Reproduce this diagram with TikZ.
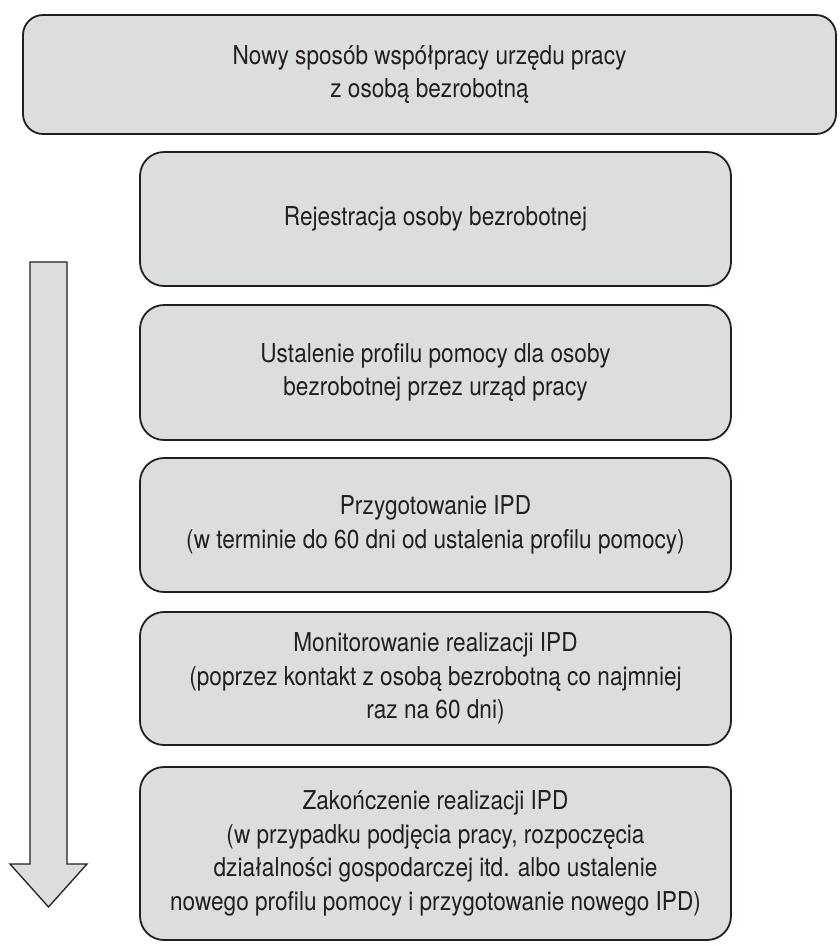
\documentclass[tikz,border=0pt]{standalone}
\usepackage{fontspec}
\setmainfont{TeX Gyre Heros}[FakeStretch=0.87]
\definecolor{boxfill}{HTML}{DCDDDF}
\definecolor{boxline}{HTML}{231F20}
\begin{document}
\begin{tikzpicture}[x=1pt,y=-1pt,
  box/.style={draw=boxline, fill=boxfill, line width=1.8pt, rounded corners=24pt,
    align=center, text=boxline, font=\fontsize{26}{33.5}\selectfont, inner sep=0pt},
  stage/.style={box, minimum width=591pt}]
\useasboundingbox (0,0) rectangle (839,946);
\node[box, rounded corners=20pt, minimum width=813pt, minimum height=119pt] (top) at (429.5,74.5)
  {Nowy sposób współpracy urzędu pracy\\z osobą bezrobotną};
\node[stage, minimum height=134pt] (s1) at (435.5,219) {Rejestracja osoby bezrobotnej};
\node[stage, minimum height=135pt] (s2) at (435.5,372.5) {Ustalenie profilu pomocy dla osoby\\bezrobotnej przez urząd pracy};
\node[stage, minimum height=134pt] (s3) at (435.5,525) {Przygotowanie IPD\\(w terminie do 60 dni od ustalenia profilu pomocy)};
\node[stage, minimum height=133pt] (s4) at (435.5,678.5) {Monitorowanie realizacji IPD\\(poprzez kontakt z osobą bezrobotną co najmniej\\raz na 60 dni)};
\node[stage, minimum height=173pt] (s5) at (435.5,853.5) {Zakończenie realizacji IPD\\(w przypadku podjęcia pracy, rozpoczęcia\\działalności gospodarczej itd. albo ustalenie\\nowego profilu pomocy i przygotowanie nowego IPD)};
\draw[draw=boxline, fill=boxfill, line width=1.3pt]
  (30,262) -- (67,262) -- (67,864) -- (87,864) -- (48.5,907) -- (10,864) -- (30,864) -- cycle;
\end{tikzpicture}
\end{document}
